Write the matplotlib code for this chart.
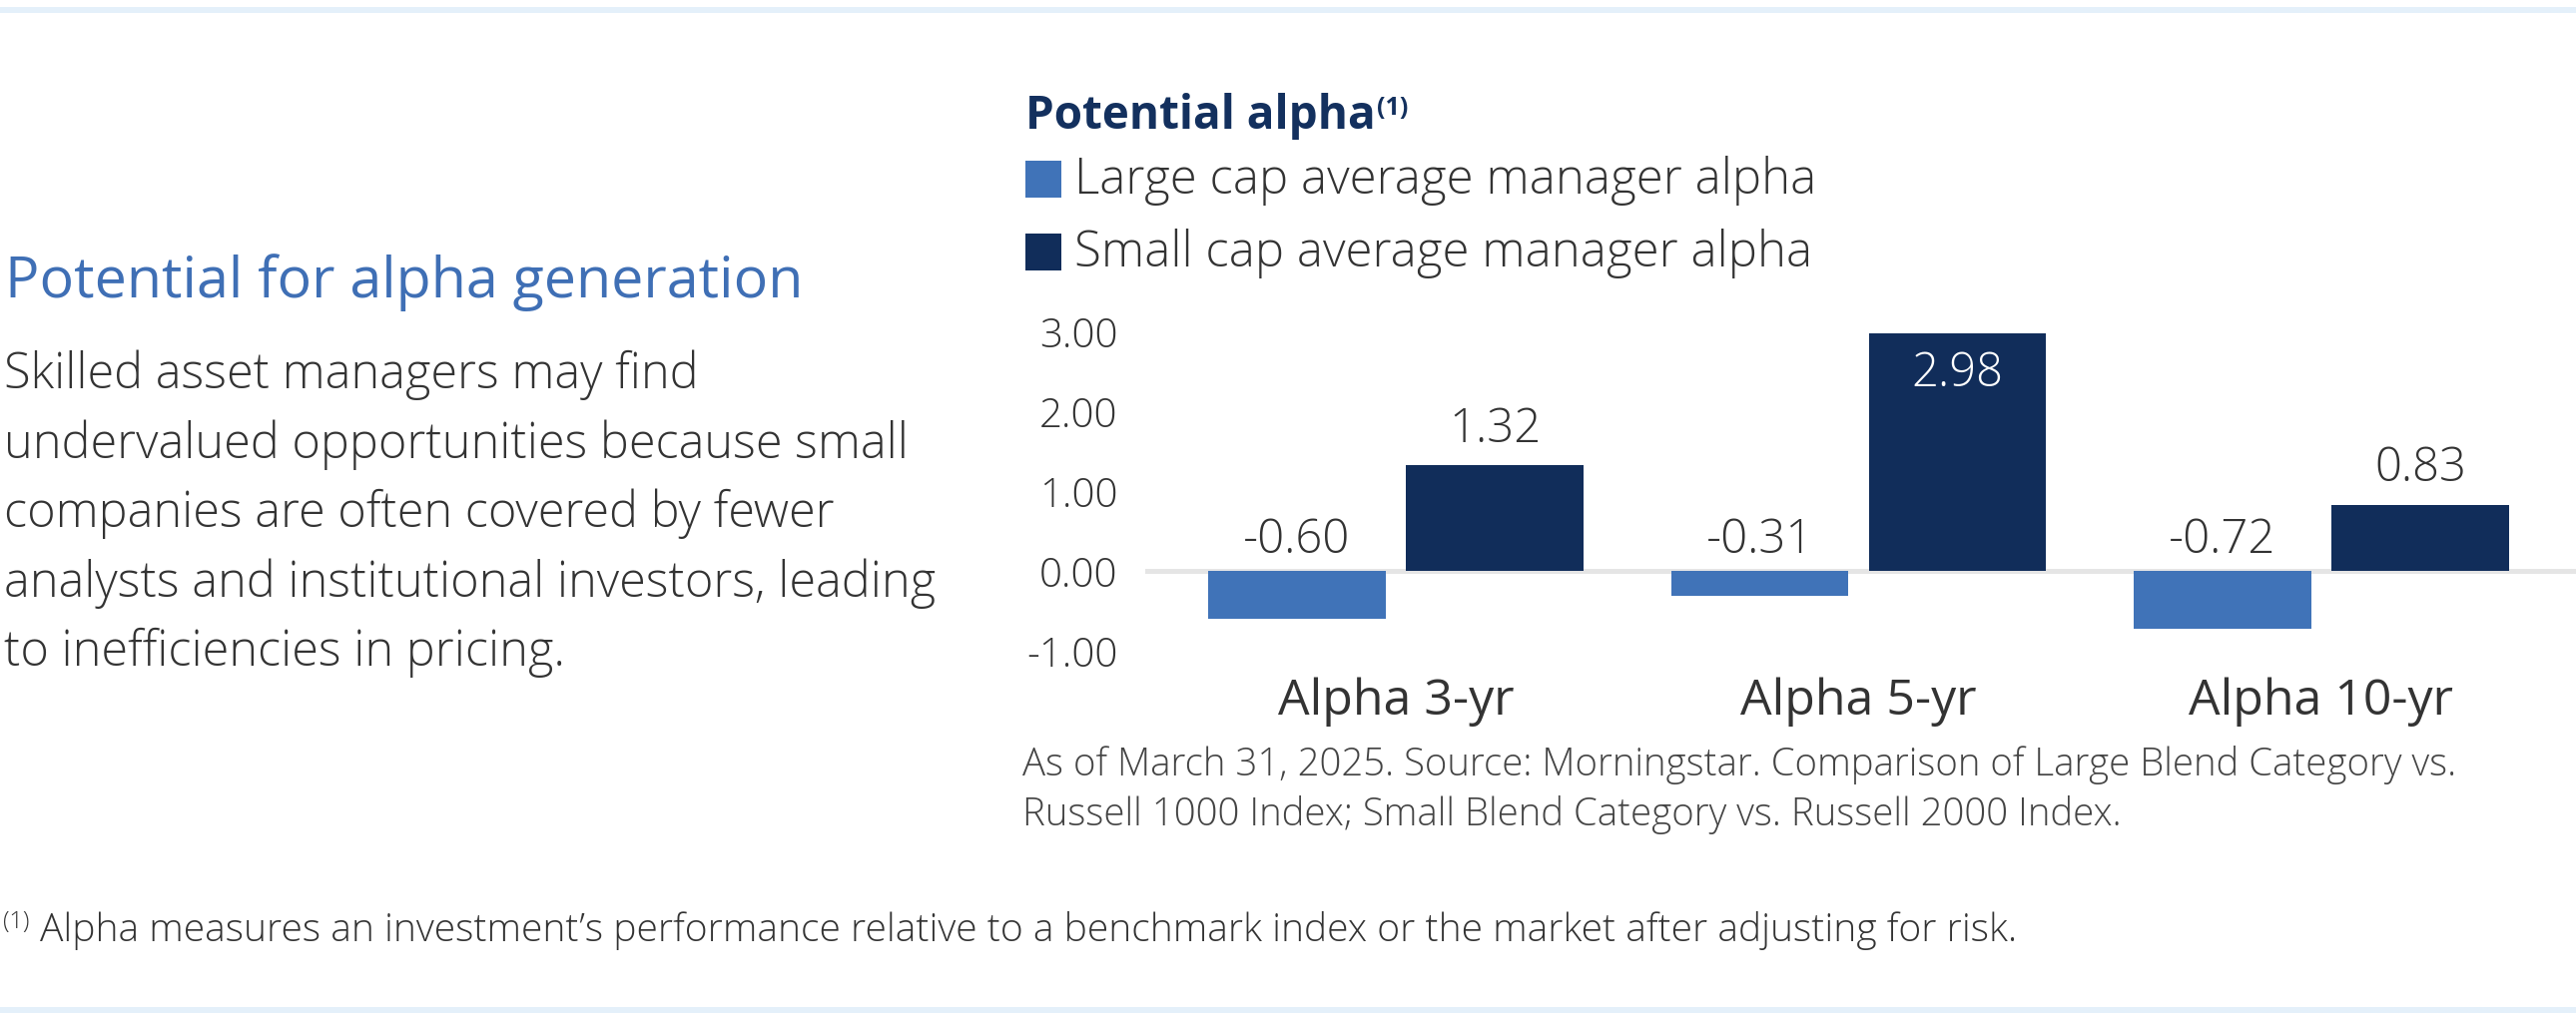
import matplotlib.pyplot as plt
import numpy as np
from matplotlib.patches import Rectangle
from matplotlib.lines import Line2D
from matplotlib.text import Annotation

plt.rcParams["font.family"] = ["Open Sans", "DejaVu Sans"]

# data
categories = ["Alpha 3-yr", "Alpha 5-yr", "Alpha 10-yr"]
series_names = ["Large cap average manager alpha", "Small cap average manager alpha"]
large_cap = [-0.60, -0.31, -0.72]
small_cap = [1.32, 2.98, 0.83]
y_ticks = [-1.0, 0.0, 1.0, 2.0, 3.0]

heading = "Potential for alpha generation"
body_lines = [
    "Skilled asset managers may find",
    "undervalued opportunities because small",
    "companies are often covered by fewer",
    "analysts and institutional investors, leading",
    "to inefficiencies in pricing.",
]
chart_title = "Potential alpha"
source_lines = [
    "As of March 31, 2025. Source: Morningstar. Comparison of Large Blend Category vs.",
    "Russell 1000 Index; Small Blend Category vs. Russell 2000 Index.",
]
footnote = "Alpha measures an investment\u2019s performance relative to a benchmark index or the market after adjusting for risk."

LIGHT_BLUE = "#4073b8"
NAVY = "#112d5a"
TEXT = "#333333"
W, H = 2580, 1024

fig = plt.figure(figsize=(W / 100, H / 100), dpi=100)
fig.patch.set_facecolor("white")


def fx(px):
    return px / W


def fy(py):
    # py measured from top
    return 1 - py / H


# top / bottom rules
for yy in (10, 1012):
    fig.add_artist(Line2D([fx(3), 1], [fy(yy), fy(yy)], color="#e4f0fa", lw=4.3))

# left text block
fig.text(fx(5), fy(283), heading, fontsize=41.3, color="#3f6fb5",
         va="center", ha="left")
for i, line in enumerate(body_lines):
    fig.text(fx(4), fy(376 + i * 69.5), line, fontsize=35, color=TEXT,
             fontweight="light", va="center", ha="left")

# chart title + legend
t = fig.text(fx(1027), fy(117), chart_title, fontsize=33, color="#13305e",
             fontweight="bold", va="center", ha="left")
fig.add_artist(Annotation("(1)", xy=(1, 0.95), xycoords=t, xytext=(1, 0),
                          textcoords="offset points", fontsize=18,
                          color="#13305e", fontweight="bold",
                          va="top", ha="left"))
for i, (name, col) in enumerate(zip(series_names, [LIGHT_BLUE, NAVY])):
    top = 161 + i * 73
    fig.add_artist(Rectangle((fx(1027), fy(top + 37)), fx(36), 37 / H,
                             facecolor=col, edgecolor="none"))
    fig.text(fx(1076), fy(top + 20), name, fontsize=35.4, color=TEXT,
             fontweight="light", va="center", ha="left")

# bar chart
zero_px, unit_px, grp_px = 572, 80, 463.5
ax = fig.add_axes([fx(1147), 1 - (zero_px + 1.2 * unit_px) / H,
                   1 - fx(1147), 4.4 * unit_px / H])
x = np.arange(len(categories))
off, bw = 0.2136, 0.384
ax.axhline(0, color="#e5e5e5", lw=3.6, zorder=1)
ax.bar(x - off, large_cap, bw, color=LIGHT_BLUE, zorder=2)
ax.bar(x + off, small_cap, bw, color=NAVY, zorder=2)

for xi, v in zip(x - off, large_cap):
    ax.text(xi, 0.38, f"{v:.2f}", ha="center", va="center", fontsize=34,
            color=TEXT, fontweight="light")
for xi, v in zip(x + off, small_cap):
    if v > 2.5:
        ax.text(xi, v - 0.52, f"{v:.2f}", ha="center", va="center", fontsize=34,
                color="white", fontweight="light")
    else:
        ax.text(xi, v + 0.45, f"{v:.2f}", ha="center", va="center", fontsize=34,
                color=TEXT, fontweight="light")

ax.set_ylim(-1.2, 3.2)
ax.set_xlim((1147 - 1398) / grp_px, (2580 - 1398) / grp_px)
ax.set_yticks(y_ticks)
ax.set_yticklabels([f"{t:.2f}" for t in y_ticks], fontsize=29, color=TEXT,
                   fontweight="light")
ax.tick_params(axis="y", length=0, pad=20)
ax.set_xticks([])
for s in ax.spines.values():
    s.set_visible(False)

for xi, c in zip(x, categories):
    ax.text(xi, -1.64, c, ha="center", va="center", fontsize=36, color=TEXT)

# source + footnote
for i, line in enumerate(source_lines):
    fig.text(fx(1024), fy(767 + i * 49), line, fontsize=27.6, color="#444444",
             fontweight="light", va="center", ha="left")
fig.text(fx(3), fy(924), "(1)", fontsize=17, color=TEXT, fontweight="light",
         va="center", ha="left")
fig.text(fx(40), fy(932), footnote, fontsize=28.1, color=TEXT, fontweight="light",
         va="center", ha="left")

fig.savefig("out.png", dpi=100, facecolor="white")
